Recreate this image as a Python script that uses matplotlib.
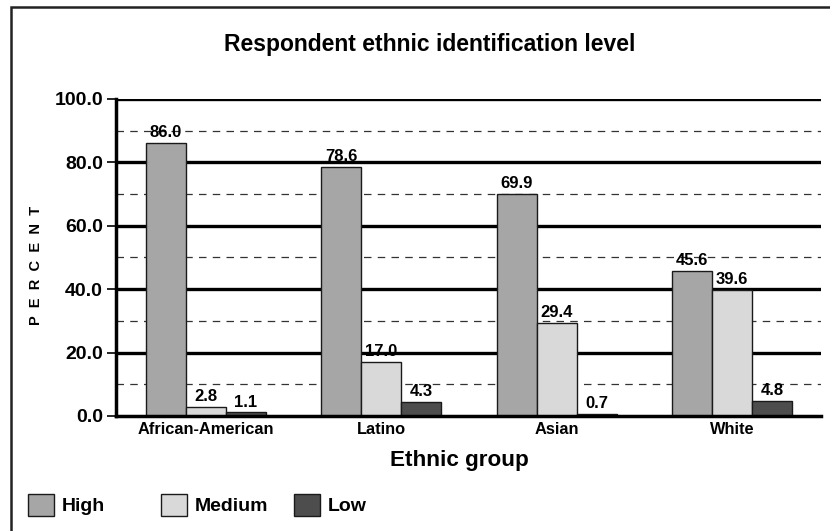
import matplotlib
matplotlib.use("Agg")
import matplotlib.pyplot as plt
import numpy as np
from matplotlib.patches import Rectangle

plt.rcParams['font.family'] = ['Liberation Sans', 'DejaVu Sans']
plt.rcParams['font.weight'] = 'bold'

categories = ["African-American", "Latino", "Asian", "White"]
series_names = ["High", "Medium", "Low"]
high = [86.0, 78.6, 69.9, 45.6]
medium = [2.8, 17.0, 29.4, 39.6]
low = [1.1, 4.3, 0.7, 4.8]
yticks = [0, 20, 40, 60, 80, 100]
minor_ticks = [10, 30, 50, 70, 90]
colors = ["#a6a6a6", "#d9d9d9", "#4d4d4d"]

fig = plt.figure(figsize=(8.3, 5.31), dpi=100)
ax = fig.add_axes([0.1398, 0.2166, 0.849, 0.597])

# figure border (top and left visible)
fig.add_artist(Rectangle((0.0133, -0.05), 1.2, 1.037, transform=fig.transFigure,
                         fill=False, edgecolor="#222222", linewidth=1.8, zorder=0))

x = np.arange(len(categories))
w = 0.228
series = [high, medium, low]
bar_handles = []
for i, (vals, col, name) in enumerate(zip(series, colors, series_names)):
    pos = x + (i - 1) * w
    b = ax.bar(pos, vals, width=w, color=col, edgecolor="#1a1a1a", linewidth=1.0,
               zorder=3, label=name)
    bar_handles.append(b)
    for p, v in zip(pos, vals):
        ax.annotate(f"{v:.1f}", (p, v), xytext=(0, 4.3), textcoords="offset points",
                    ha="center", va="baseline", fontsize=12, fontweight="bold", zorder=4)

for t in yticks[1:]:
    ax.axhline(t, color="black", linewidth=2.4, zorder=1)
for t in minor_ticks:
    ax.axhline(t, color="#333333", linewidth=0.9, linestyle=(0, (6, 5)), zorder=1)

ax.set_xlim(-0.511, 3.506)
ax.set_ylim(0, 100)
ax.set_yticks(yticks)
ax.set_yticklabels([f"{t:.1f}" for t in yticks], fontsize=14, fontweight="bold")
ax.tick_params(axis='y', length=6.5, width=1.2, pad=2.9)
ax.set_xticks(x)
ax.set_xticklabels(categories, fontsize=11.75, fontweight="bold")
ax.tick_params(axis='x', length=0, pad=4)

for s in ["top", "right"]:
    ax.spines[s].set_visible(False)
ax.spines["left"].set_linewidth(2.5)
ax.spines["bottom"].set_linewidth(2.5)
ax.spines["bottom"].set_zorder(5)

fig.text(0.5175, 1 - 51 / 531, "Respondent ethnic identification level", ha="center",
         va="baseline", fontsize=16.5, fontweight="bold")
fig.text(0.5536, 1 - 466 / 531, "Ethnic group", ha="center", va="baseline",
         fontsize=16.2, fontweight="bold")
fig.text(0.0428, 1 - 265 / 531, "P  E  R  C  E  N  T", ha="center", va="center",
         rotation=90, fontsize=10.5, fontweight="bold")

# legend: three equally spaced entries
leg_x = [28 / 830, 161 / 830, 294 / 830]
for h, name, lx in zip(bar_handles, series_names, leg_x):
    leg = fig.legend([h], [name], loc="center left", bbox_to_anchor=(lx, 0.049),
                     frameon=False, fontsize=14, handlelength=1.34, handleheight=1.34,
                     handletextpad=0.41, borderaxespad=0, borderpad=0)
    for t in leg.get_texts():
        t.set_fontweight("bold")

fig.savefig("out.png", dpi=100)
